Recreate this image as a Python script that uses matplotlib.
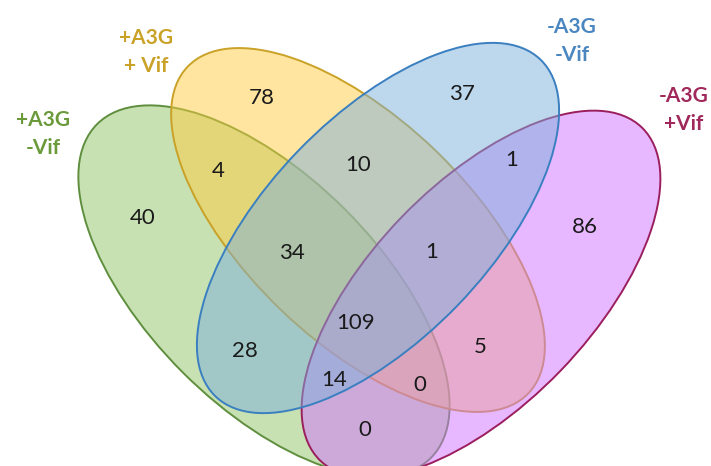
import matplotlib
matplotlib.use("Agg")
from matplotlib import pyplot as plt
from matplotlib.patches import Ellipse

# data
set_names = ["+A3G\n-Vif", "+A3G\n+ Vif", "-A3G\n+Vif", "-A3G\n-Vif"]
region_keys = ["Y", "GY", "G", "YB", "B", "BM", "M", "GYB", "YBM",
               "GYBM", "GB", "YM", "GBM", "GYM", "GM"]
region_counts = [78, 4, 40, 10, 37, 1, 86, 34, 1, 109, 28, 5, 14, 0, 0]

# layout (pixel coords, y down)
region_pos = {"Y": (262, 98), "GY": (218, 171), "G": (143, 218),
              "YB": (358, 165), "B": (462, 94), "BM": (512, 160),
              "M": (585, 227), "GYB": (292, 253), "YBM": (432, 252),
              "GYBM": (356, 323), "GB": (245, 351), "YM": (480, 347),
              "GBM": (334, 380), "GYM": (420, 385), "GM": (365, 430)}

# drawn in this order: green, yellow, magenta, blue
ellipses = [
    # center, width, height, angle, face rgb, edge
    ((264, 291), 472, 230, 45, (0.57, 0.77, 0.41), "#5f8f3e"),
    ((358, 230), 472, 222, 43.8, (1.0, 0.80, 0.25), "#c9a227"),
    ((481, 294), 463, 221, -46, (0.82, 0.45, 1.0), "#9b1f5e"),
    ((378, 228), 468, 222, -46, (0.49, 0.69, 0.86), "#3a7fc0"),
]
label_pos = [(43, 134), (146, 52), (684, 110), (572, 41)]
label_colors = ["#6a9a3a", "#c9a227", "#a0285a", "#4a86c0"]

plt.rcParams['font.family'] = ['Lato', 'DejaVu Sans']

fig = plt.figure(figsize=(7.11, 4.66), dpi=100)
ax = fig.add_axes([0, 0, 1, 1])
ax.set_xlim(0, 711)
ax.set_ylim(466, 0)
ax.axis('off')

for (c, w, h, ang, fc, ec) in ellipses:
    ax.add_patch(Ellipse(c, w, h, angle=ang, facecolor=fc + (0.5,),
                         edgecolor=ec, lw=1.4))

for key, n in zip(region_keys, region_counts):
    x, y = region_pos[key]
    ax.text(x, y, str(n), ha='center', va='center', fontsize=16,
            color='#1a1a1a')

for name, (x, y), col in zip(set_names, label_pos, label_colors):
    ax.text(x, y, name, ha='center', va='center', fontsize=15,
            fontweight='bold', color=col, linespacing=1.45)

fig.savefig("out.png", dpi=100)
